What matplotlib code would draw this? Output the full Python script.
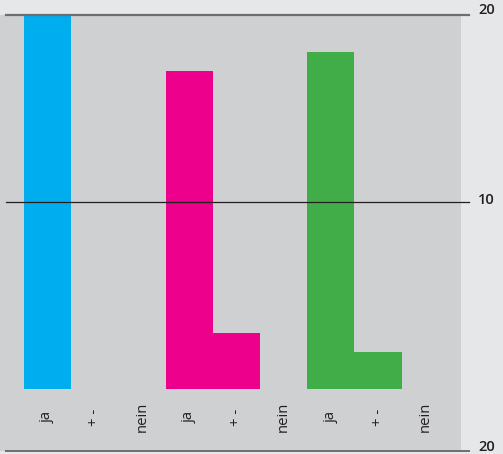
import matplotlib
matplotlib.use("Agg")
import matplotlib.pyplot as plt
from matplotlib.lines import Line2D

plt.rcParams['font.family'] = ['Open Sans', 'DejaVu Sans']

# data
categories = ["ja", "+ -", "nein", "ja", "+ -", "nein", "ja", "+ -", "nein"]
values = [20, 0, 0, 17, 3, 0, 18, 2, 0]
group_colors = ["#00aeef", "#ec008c", "#41ad49"]
gridline_values = [20, 10]
right_labels = ["20", "10", "20"]

W, H = 503, 454
fig = plt.figure(figsize=(W / 100, H / 100), dpi=100)
fig.patch.set_facecolor("#e6e7e8")

# axes placed in pixel units
x0, x1 = 0, 461
y_top, y_bot = 15, 451
ax = fig.add_axes([x0 / W, 1 - y_bot / H, (x1 - x0) / W, (y_bot - y_top) / H])
ax.set_facecolor("#cfd0d2")
for s in ax.spines.values():
    s.set_visible(False)

slot_left_px, slot_w_px = 24, 47.2
xmin = (x0 - slot_left_px) / slot_w_px - 0.5
xmax = (x1 - slot_left_px) / slot_w_px - 0.5
ax.set_xlim(xmin, xmax)
px_per_unit = (202 - 15) / 10.0
zero_px = 15 + 20 * px_per_unit
ax.set_ylim(-(y_bot - zero_px) / px_per_unit, 20)

colors = [group_colors[i // 3] for i in range(len(values))]
ax.bar(range(len(values)), values, width=1.0, color=colors, zorder=2)

ax.set_xticks([])
ax.set_yticks([])

# category labels below the bars
label_y = -1.5
for i, lab in enumerate(categories):
    ax.text(i, label_y, lab, rotation=90, ha="center", va="center",
            fontsize=10.7, color="#231f20")

# horizontal rules and right-hand labels, drawn in figure pixels
def fy(py):
    return 1 - py / H

lx0, lx1 = 6 / W, 469 / W
fig.add_artist(Line2D([lx0, lx1], [fy(15), fy(15)], color="#6d6e71", lw=1.6, zorder=5))
fig.add_artist(Line2D([lx0, lx1], [fy(202), fy(202)], color="#231f20", lw=0.9, zorder=5))
fig.add_artist(Line2D([lx0, lx1], [fy(451), fy(451)], color="#6d6e71", lw=1.4, zorder=5))

for lab, py in zip(right_labels, [10, 200, 447]):
    fig.text(478 / W, fy(py), lab, ha="left", va="center", fontsize=10.5,
             color="#231f20", fontweight="semibold")

fig.savefig("out.png", dpi=100)
